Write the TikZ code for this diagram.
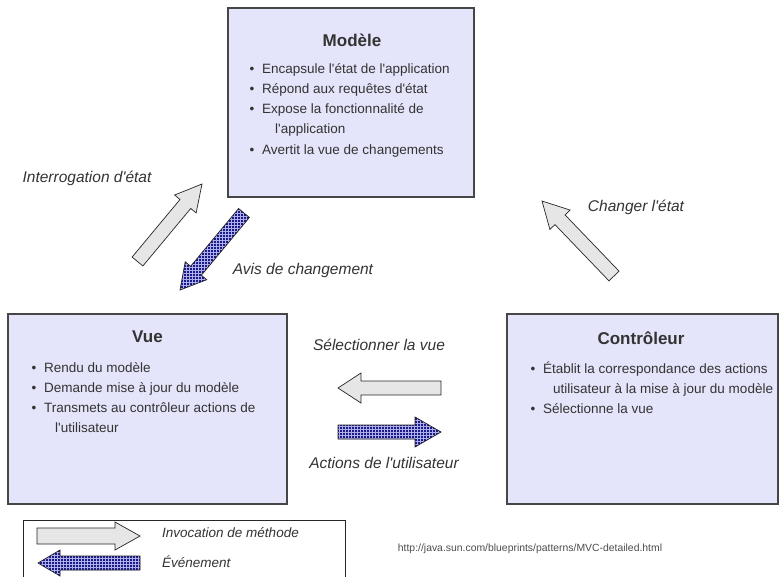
\documentclass[tikz,border=0pt]{standalone}
\usepackage{fontspec}
\setmainfont{Liberation Sans}[Ligatures=TeXOff]
\usetikzlibrary{calc,patterns}
\definecolor{boxfill}{RGB}{228,228,250}
\definecolor{boxline}{RGB}{70,70,70}
\definecolor{txt}{RGB}{51,51,51}
\definecolor{arrgray}{RGB}{230,230,230}
\definecolor{arrblue}{RGB}{25,25,135}
\definecolor{gridblue}{RGB}{175,175,235}
\tikzset{
  panel/.style={draw=boxline, line width=1.3pt, fill=boxfill, inner sep=0pt},
  legendbox/.style={draw=black!85, line width=0.8pt, fill=white, inner sep=0pt},
  ttl/.style={font=\fontsize{17}{20}\selectfont\bfseries, text=txt, inner sep=0pt, anchor=base},
  body/.style={font=\fontsize{13.5}{16}\selectfont, text=txt, inner sep=0pt, anchor=base west},
  lbl/.style={font=\fontsize{15.5}{18}\selectfont\itshape, text=txt, inner sep=0pt},
  leglbl/.style={font=\fontsize{13.5}{16}\selectfont\itshape, text=txt, inner sep=0pt, anchor=west},
  urltxt/.style={font=\fontsize{10.4}{12}\selectfont, text=black!70, inner sep=0pt},
  callarrow/.style={draw=black!85, line width=0.7pt, fill=arrgray, line join=miter},
  evtarrow/.style={draw=black!85, line width=0.7pt, preaction={fill=arrblue}, pattern=grid, pattern color=gridblue, line join=miter},
}
\newcommand{\bul}{\makebox[12.5pt][l]{\textbullet}}
% #1 style, #2 tail, #3 tip, #4 shaft half width, #5 head half width, #6 head length
\newcommand{\blockarr}[6]{%
  \coordinate (hb) at ($(#3)!#6!(#2)$);
  \path[#1] ($(#2)!#4!90:(#3)$) -- ($(hb)!#4!90:(#3)$) -- ($(hb)!#5!90:(#3)$) -- (#3)
    -- ($(hb)!#5!-90:(#3)$) -- ($(hb)!#4!-90:(#3)$) -- ($(#2)!#4!-90:(#3)$) -- cycle;
}
\begin{document}
\begin{tikzpicture}[x=1pt, y=-1pt]
\useasboundingbox (0,0) rectangle (781,576);
\clip (0,0) rectangle (781,576);

% Boxes
\node[panel, minimum width=246pt, minimum height=189pt] (modele) at (351,102.5) {};
\node[panel, minimum width=279pt, minimum height=190pt] (vue) at (147.5,409) {};
\node[panel, minimum width=271pt, minimum height=190pt] (ctrl) at (642.5,409) {};

% Modele text
\node[ttl] (modeleT) at (352,46) {Modèle};
\node[body] (m1) at (249.5,73) {\bul Encapsule l'état de l'application};
\node[body] (m2) at (249.5,93) {\bul Répond aux requêtes d'état};
\node[body] (m3) at (249.5,113) {\bul Expose la fonctionnalité de};
\node[body] (m4) at (275,133) {l'application};
\node[body] (m5) at (249.5,154) {\bul Avertit la vue de changements};

% Vue text
\node[ttl] (vueT) at (147.5,342) {Vue};
\node[body] (v1) at (31.5,372) {\bul Rendu du modèle};
\node[body] (v2) at (31.5,392) {\bul Demande mise à jour du modèle};
\node[body] (v3) at (31.5,412) {\bul Transmets au contrôleur actions de};
\node[body] (v4) at (55,432) {l'utilisateur};

% Controleur text
\node[ttl] (ctrlT) at (641,344) {Contrôleur};
\node[body] (c1) at (530.5,373) {\bul Établit la correspondance des actions};
\node[body] (c2) at (553,393) {utilisateur à la mise à jour du modèle};
\node[body] (c3) at (530.5,413) {\bul Sélectionne la vue};

% Arrow end points
\coordinate (iaT) at (137.5,261.5); \coordinate (iaH) at (202,184);
\coordinate (avT) at (244,213);     \coordinate (avH) at (180,290);
\coordinate (ceT) at (614,276);     \coordinate (ceH) at (542,201);
\coordinate (svT) at (441,388);     \coordinate (svH) at (338,388);
\coordinate (auT) at (338,432);     \coordinate (auH) at (441,432);

\blockarr{callarrow}{iaT}{iaH}{7pt}{14pt}{26pt}
\blockarr{evtarrow}{avT}{avH}{7pt}{14pt}{25pt}
\blockarr{callarrow}{ceT}{ceH}{7pt}{14pt}{26pt}
\blockarr{callarrow}{svT}{svH}{7pt}{15pt}{23pt}
\blockarr{evtarrow}{auT}{auH}{7pt}{15pt}{26pt}

% Labels
\node[lbl] (l1) at (87,178) {Interrogation d'état};
\node[lbl] (l2) at (303,270) {Avis de changement};
\node[lbl] (l3) at (636,207) {Changer l'état};
\node[lbl] (l4) at (379,345) {Sélectionner la vue};
\node[lbl] (l5) at (384,463) {Actions de l'utilisateur};

% Legend
\node[legendbox, minimum width=322pt, minimum height=80pt] (legend) at (184,560) {};
\coordinate (lgT) at (37,536);  \coordinate (lgH) at (140,536);
\coordinate (lbT) at (140,563); \coordinate (lbH) at (38,563);
\blockarr{callarrow}{lgT}{lgH}{8pt}{14pt}{25pt}
\blockarr{evtarrow}{lbT}{lbH}{7pt}{13pt}{22pt}
\node[leglbl] (lg1) at (162,533) {Invocation de méthode};
\node[leglbl] (lg2) at (162,562) {Événement};

% URL
\node[urltxt] (url) at (530,549) {http://java.sun.com/blueprints/patterns/MVC-detailed.html};
\end{tikzpicture}
\end{document}
